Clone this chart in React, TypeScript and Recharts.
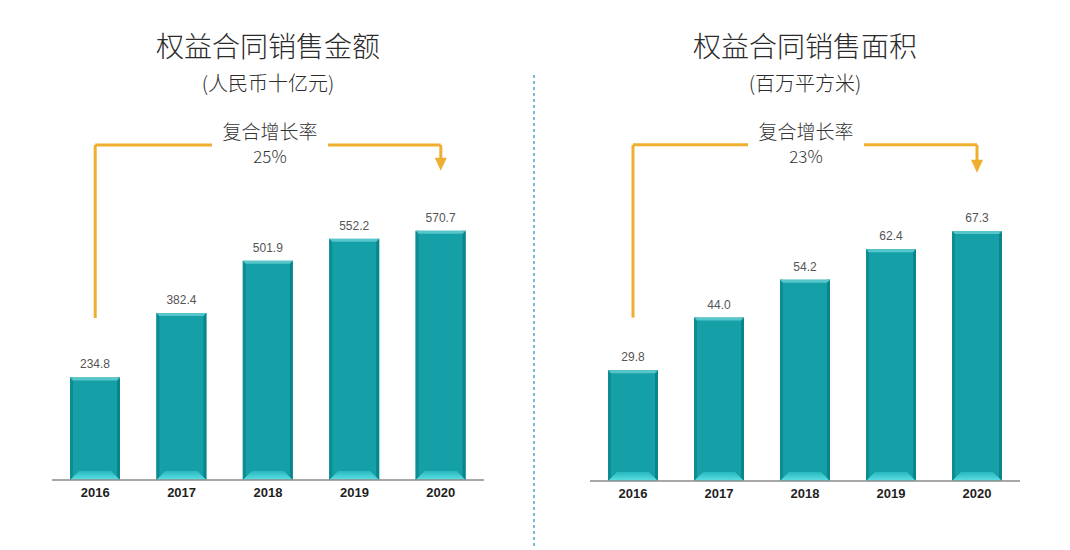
import React from "react";
import {
  BarChart,
  Bar,
  XAxis,
  YAxis,
  LabelList,
  ReferenceLine,
  ReferenceDot,
} from "recharts";

// ============================================
// Data
// ============================================

const YEARS = ["2016", "2017", "2018", "2019", "2020"];
const SALES_AMOUNT = [234.8, 382.4, 501.9, 552.2, 570.7];
const SALES_AREA = [29.8, 44.0, 54.2, 62.4, 67.3];

const LEFT_TITLE = "权益合同销售金额";
const LEFT_UNIT = "(人民币十亿元)";
const RIGHT_TITLE = "权益合同销售面积";
const RIGHT_UNIT = "(百万平方米)";
const CAGR_LABEL = "复合增长率";
const CAGR_VALUES = ["25%", "23%"];

// arrow path in data units: [start, top, arrowhead base, tip]
const LEFT_ARROW = [371, 767, 735, 708];
const RIGHT_ARROW = [44, 90.5, 86, 83];

// ============================================
// Shared styles
// ============================================

const CJK = '"Noto Sans CJK SC", "Noto Sans", sans-serif';
const NUM = '"Liberation Sans", Arial, sans-serif';
const ORANGE = "#efae2f";
const TICK = { fill: "#1f1f1f", fontSize: 13, fontWeight: 700, fontFamily: NUM };

function BevelBar(props: any) {
  const { x, y, width, height } = props;
  if (!height || height <= 0) return null;
  const b = 9;
  return (
    <g>
      <rect x={x} y={y} width={width} height={height} fill="#14a0a6" />
      <rect x={x} y={y} width={3} height={height} fill="#0d8c92" />
      <rect x={x + width - 3} y={y} width={3} height={height} fill="#0b858b" />
      <polygon
        points={`${x},${y} ${x + width},${y} ${x + width - 3},${y + 3} ${x + 3},${y + 3}`}
        fill="#56c6ca"
      />
      <polygon
        points={`${x},${y + height} ${x + width},${y + height} ${x + width - b},${y + height - b} ${x + b},${y + height - b}`}
        fill="url(#bevelGrad)"
      />
    </g>
  );
}

function Arrowhead(props: any) {
  const { cx, cy } = props;
  return (
    <polygon
      points={`${cx - 6},${cy - 13} ${cx + 6},${cy - 13} ${cx},${cy}`}
      fill={ORANGE}
    />
  );
}

function Panel({
  values,
  domain,
  arrow,
  margin,
}: {
  values: number[];
  domain: [number, number];
  arrow: number[];
  margin: { top: number; right: number; bottom: number; left: number };
}) {
  const data = YEARS.map((year, i) => ({ year, value: values[i] }));
  const first = YEARS[0];
  const last = YEARS[YEARS.length - 1];
  const seg = { stroke: ORANGE, strokeWidth: 3, ifOverflow: "visible" as const };
  return (
    <BarChart width={535} height={550} data={data} margin={margin}>
      <defs>
        <linearGradient id="bevelGrad" x1="0" y1="0" x2="0" y2="1">
          <stop offset="0%" stopColor="#27b8be" />
          <stop offset="100%" stopColor="#5fe0e4" />
        </linearGradient>
      </defs>
      <XAxis
        dataKey="year"
        tick={TICK}
        tickLine={false}
        height={30}
        axisLine={{ stroke: "#8a8a8a", strokeWidth: 1.5 }}
      />
      <YAxis hide domain={domain} />
      <Bar dataKey="value" barSize={50} shape={<BevelBar />} isAnimationActive={false}>
        <LabelList
          dataKey="value"
          position="top"
          offset={9}
          formatter={(v: any) => Number(v).toFixed(1)}
          style={{ fill: "#555", fontSize: 12, fontFamily: NUM }}
        />
      </Bar>
      <ReferenceLine segment={[{ x: first, y: arrow[0] }, { x: first, y: arrow[1] }]} {...seg} />
      <ReferenceLine segment={[{ x: first, y: arrow[1] }, { x: last, y: arrow[1] }]} {...seg} />
      <ReferenceLine segment={[{ x: last, y: arrow[1] }, { x: last, y: arrow[2] }]} {...seg} />
      <ReferenceDot x={last} y={arrow[3]} ifOverflow="visible" shape={<Arrowhead />} />
    </BarChart>
  );
}

function Heading({ cx, title, unit }: { cx: number; title: string; unit: string }) {
  return (
    <>
      <div
        style={{
          position: "absolute",
          left: cx - 200,
          width: 400,
          top: 26,
          textAlign: "center",
          fontFamily: CJK,
          fontWeight: 300,
          fontSize: 28,
          lineHeight: "38px",
          color: "#2b2b2b",
        }}
      >
        {title}
      </div>
      <div
        style={{
          position: "absolute",
          left: cx - 200,
          width: 400,
          top: 69,
          textAlign: "center",
          fontFamily: CJK,
          fontWeight: 300,
          fontSize: 20,
          lineHeight: "28px",
          color: "#2b2b2b",
        }}
      >
        {unit}
      </div>
    </>
  );
}

function Cagr({ cx, value }: { cx: number; value: string }) {
  return (
    <div
      style={{
        position: "absolute",
        left: cx - 58,
        width: 116,
        top: 118,
        background: "#fff",
        textAlign: "center",
        fontFamily: CJK,
        fontWeight: 300,
        color: "#333",
      }}
    >
      <div style={{ fontSize: 19, lineHeight: "26px" }}>{CAGR_LABEL}</div>
      <div style={{ fontSize: 17, lineHeight: "24px" }}>{value}</div>
    </div>
  );
}

export default function App() {
  return (
    <div
      style={{
        position: "absolute",
        left: 0,
        top: 0,
        width: 1070,
        height: 550,
        background: "#fff",
        overflow: "hidden",
      }}
    >
      <div style={{ position: "absolute", left: 0, top: 0 }}>
        <Panel
          values={SALES_AMOUNT}
          domain={[0, 600]}
          arrow={LEFT_ARROW}
          margin={{ top: 218, right: 51, bottom: 40, left: 52 }}
        />
      </div>
      <div style={{ position: "absolute", left: 535, top: 0 }}>
        <Panel
          values={SALES_AREA}
          domain={[0, 70]}
          arrow={RIGHT_ARROW}
          margin={{ top: 221, right: 50, bottom: 39, left: 55 }}
        />
      </div>
      <svg style={{ position: "absolute", left: 0, top: 0 }} width={1070} height={550}>
        <line x1={534} y1={75} x2={534} y2={548} stroke="#4ea6c6" strokeWidth={1.5} strokeDasharray="3 3" />
      </svg>
      <Heading cx={268} title={LEFT_TITLE} unit={LEFT_UNIT} />
      <Heading cx={805} title={RIGHT_TITLE} unit={RIGHT_UNIT} />
      <Cagr cx={270} value={CAGR_VALUES[0]} />
      <Cagr cx={806} value={CAGR_VALUES[1]} />
    </div>
  );
}
